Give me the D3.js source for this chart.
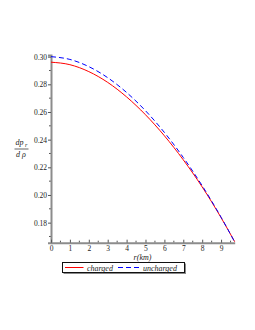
<!DOCTYPE html>
<html>
<head>
<meta charset="utf-8">
<script src="https://cdn.jsdelivr.net/npm/d3@7"></script>
<style>
  html, body { margin: 0; padding: 0; background: #fff; }
  svg { display: block; }
  text { font-family: "Liberation Serif", "DejaVu Serif", serif; }
</style>
</head>
<body>
<div id="chart"></div>
<script>
// radius in km
const radius = [0, 1, 2, 3, 4, 5, 6, 7, 8, 9, 9.72];
// dp_r / d rho, charged and uncharged
const charged = [0.2960, 0.2942, 0.2892, 0.2814, 0.2709, 0.2580, 0.2428, 0.2254, 0.2058, 0.1836, 0.1662];
const uncharged = [0.3000, 0.2980, 0.2928, 0.2848, 0.2741, 0.2609, 0.2452, 0.2271, 0.2067, 0.1839, 0.1660];
const xTicks = [0, 1, 2, 3, 4, 5, 6, 7, 8, 9];
const yTicks = [0.18, 0.20, 0.22, 0.24, 0.26, 0.28, 0.30];

const width = 255, height = 330;

const svg = d3.select("#chart")
  .append("svg")
  .attr("width", width)
  .attr("height", height);

const x = d3.scaleLinear().domain([0, 9.72]).range([51, 234.7]);
const y = d3.scaleLinear().domain([0.1655, 0.3012]).range([242.7, 55]);

const axisColor = "#8c8c8c";

// minor ticks
const yMinor = d3.range(0.17, 0.301, 0.01).filter(v => Math.abs(Math.round(v * 50) - v * 50) > 0.01);
svg.append("g")
  .selectAll("line")
  .data(yMinor)
  .join("line")
  .attr("x1", x(0) - 2).attr("x2", x(0))
  .attr("y1", d => y(d)).attr("y2", d => y(d))
  .attr("stroke", "#555").attr("stroke-width", 1);

const xMinor = d3.range(0.5, 9.6, 1);
svg.append("g")
  .selectAll("line")
  .data(xMinor)
  .join("line")
  .attr("x1", d => x(d)).attr("x2", d => x(d))
  .attr("y1", y(0.1655) - 2).attr("y2", y(0.1655))
  .attr("stroke", "#555").attr("stroke-width", 1);

// y axis
const yAxis = svg.append("g")
  .attr("transform", `translate(${x(0)},0)`)
  .call(d3.axisLeft(y).tickValues(yTicks).tickSize(3).tickPadding(1)
    .tickFormat(d3.format(".2f")));
yAxis.select(".domain").attr("stroke", axisColor).attr("stroke-width", 2);
yAxis.selectAll(".tick line").attr("stroke", "#555");
yAxis.selectAll("text").attr("font-size", 7.5).attr("fill", "#222")
  .attr("font-family", "Liberation Serif");

// x axis
const xAxis = svg.append("g")
  .attr("transform", `translate(0,${y(0.1655)})`)
  .call(d3.axisBottom(x).tickValues(xTicks).tickSizeInner(-3).tickSizeOuter(0).tickPadding(3));
xAxis.select(".domain").attr("stroke", axisColor).attr("stroke-width", 2);
xAxis.selectAll(".tick line").attr("stroke", "#555");
xAxis.selectAll("text").attr("font-size", 7.5).attr("fill", "#222")
  .attr("font-family", "Liberation Serif");

// curves
const line = d3.line()
  .x((d, i) => x(radius[i]))
  .y(d => y(d))
  .curve(d3.curveMonotoneX);

svg.append("path")
  .datum(charged)
  .attr("fill", "none")
  .attr("stroke", "#ff0000")
  .attr("stroke-width", 1)
  .attr("d", line);

svg.append("path")
  .datum(uncharged)
  .attr("fill", "none")
  .attr("stroke", "#0000ff")
  .attr("stroke-width", 1)
  .attr("stroke-dasharray", "5,3")
  .attr("d", line);

// y label: dp_r / d rho
const yl = svg.append("g").attr("font-style", "italic").attr("fill", "#222");
yl.append("text")
  .attr("x", 15.5).attr("y", 144.5)
  .attr("font-size", 8)
  .text("dp");
yl.append("text")
  .attr("x", 25).attr("y", 147)
  .attr("font-size", 6)
  .text("r");
yl.append("line")
  .attr("x1", 14.5).attr("x2", 28.5)
  .attr("y1", 149).attr("y2", 149)
  .attr("stroke", "#222").attr("stroke-width", 0.7);
yl.append("text")
  .attr("x", 16).attr("y", 157)
  .attr("font-size", 8)
  .text("d \u03C1");

// x label
svg.append("text")
  .attr("x", 142.5).attr("y", 259.5)
  .attr("text-anchor", "middle")
  .attr("font-size", 8)
  .attr("font-style", "italic")
  .attr("fill", "#222")
  .text("r(km)");

// legend
const leg = svg.append("g");
leg.append("rect")
  .attr("x", 63.5).attr("y", 263.5)
  .attr("width", 122.5).attr("height", 10.5)
  .attr("fill", "#888");
leg.append("rect")
  .attr("x", 62.5).attr("y", 262.5)
  .attr("width", 122).attr("height", 10)
  .attr("fill", "#fff")
  .attr("stroke", "#111").attr("stroke-width", 1);
leg.append("line")
  .attr("x1", 65).attr("x2", 83.5).attr("y1", 267.5).attr("y2", 267.5)
  .attr("stroke", "#ff0000").attr("stroke-width", 1);
leg.append("text")
  .attr("x", 87).attr("y", 270.5)
  .attr("font-size", 8).attr("font-style", "italic").attr("fill", "#222")
  .text("charged");
leg.append("line")
  .attr("x1", 118).attr("x2", 140.5).attr("y1", 267.5).attr("y2", 267.5)
  .attr("stroke", "#0000ff").attr("stroke-width", 1)
  .attr("stroke-dasharray", "5,3");
leg.append("text")
  .attr("x", 143).attr("y", 270.5)
  .attr("font-size", 8).attr("font-style", "italic").attr("fill", "#222")
  .text("uncharged");
</script>
</body>
</html>
